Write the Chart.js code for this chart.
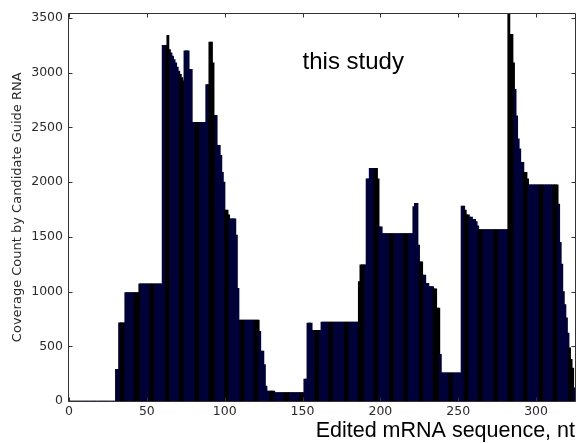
<!DOCTYPE html>
<html>
<head>
<meta charset="utf-8">
<script src="https://cdn.jsdelivr.net/npm/chart.js@4.4.1/dist/chart.umd.min.js"></script>
<style>
  body { margin: 0; background: #fff; }
</style>
</head>
<body>
<canvas id="myChart" width="578" height="443"></canvas>
<script>

// coverage: each step starts at stepStart (nt) and keeps stepHeight until the next one
const stepStart = [0, 30, 32, 36, 45, 60, 63, 64, 65, 66, 67, 68, 69, 70, 71, 72, 73, 74, 77, 79,
    88, 90, 92, 93, 95, 97, 98, 99, 100, 102, 103, 107, 108, 109, 122, 123, 125, 126, 127, 132,
    151, 153, 156, 162, 186, 187, 191, 193, 198, 199, 201, 221, 222, 224, 225, 227, 229, 231, 234, 236,
    238, 239, 252, 254, 255, 257, 259, 261, 262, 263, 282, 283, 285, 286, 287, 288, 289, 290, 292, 294,
    295, 314, 315, 316, 317, 318, 319, 320, 321, 322, 323, 324];
const stepHeight = [0, 290, 715, 990, 1070, 3250, 3340, 3210, 3180, 3150, 3120, 3090, 3050, 3015, 2985, 2955, 2925, 3200, 3030, 2545,
    2890, 3280, 3090, 2610, 2335, 2245, 2090, 2000, 1745, 1700, 1665, 1515, 1030, 740, 636, 455, 333, 136, 91, 76,
    200, 712, 645, 720, 1090, 1245, 2030, 2125, 2030, 1590, 1530, 1775, 1805, 1424, 1272, 1151, 1076, 1045, 1024, 848,
    427, 258, 1780, 1745, 1700, 1680, 1660, 1640, 1600, 1565, 3540, 3350, 3090, 2848, 2606, 2394, 2303, 2181, 2090, 2030,
    1975, 1800, 1450, 1250, 1000, 880, 760, 620, 485, 380, 300, 120];
const seqLength = 325;
const yMax = 3540;

const xTicks = [0, 50, 100, 150, 200, 250, 300];
const yTicks = [0, 500, 1000, 1500, 2000, 2500, 3000, 3500];

const noteText = 'this study';
const noteAt = [150, 3090];

const navy = '#02023a';

const bars = [];
for (let i = 0; i < seqLength; i++) {
    let k = 0;
    while (k + 1 < stepStart.length && stepStart[k + 1] <= i) k++;
    bars.push({ x: i + 0.5, y: stepHeight[k] });
}

// frame, inward ticks on all four sides, and the text label
const framePlugin = {
    id: 'frame',
    afterDraw(chart) {
        const ctx = chart.ctx;
        const a = chart.chartArea;
        const x = chart.scales.x;
        const y = chart.scales.y;
        const l = Math.round(a.left) - 0.5, r = Math.round(a.right) + 0.5;
        const t = Math.round(a.top) - 0.5, b = Math.round(a.bottom) + 0.5;
        ctx.save();
        ctx.strokeStyle = '#333333';
        ctx.lineWidth = 1;
        ctx.setLineDash([]);
        ctx.beginPath();
        ctx.moveTo(l, t); ctx.lineTo(r, t); ctx.lineTo(r, b); ctx.lineTo(l, b); ctx.closePath();
        ctx.stroke();
        ctx.beginPath();
        xTicks.forEach(v => {
            const px = Math.round(x.getPixelForValue(v)) + 0.5;
            ctx.moveTo(px, b); ctx.lineTo(px, b - 4);
            ctx.moveTo(px, t); ctx.lineTo(px, t + 4);
        });
        yTicks.forEach(v => {
            const py = Math.round(y.getPixelForValue(v)) + 0.5;
            ctx.moveTo(l, py); ctx.lineTo(l + 4, py);
            ctx.moveTo(r, py); ctx.lineTo(r - 4, py);
        });
        ctx.stroke();

        ctx.fillStyle = '#000';
        ctx.font = '24px "Liberation Sans", Arial, sans-serif';
        ctx.textAlign = 'left';
        ctx.textBaseline = 'middle';
        ctx.fillText(noteText, x.getPixelForValue(noteAt[0]), y.getPixelForValue(noteAt[1]));
        ctx.restore();
    }
};

const tickFont = { family: '"DejaVu Sans", sans-serif', size: 12.5 };

const config = {
    type: 'bar',
    data: {
        datasets: [{
            data: bars,
            backgroundColor: (c) => {
                const p = ((c.index - 3.5) % 9.6 + 9.6) % 9.6;
                return p < 3.2 ? '#000000' : navy;
            },
            borderWidth: 0,
            barThickness: 2.2
        }]
    },
    options: {
        responsive: false,
        animation: false,
        layout: { padding: { top: 13, right: 3, left: 0, bottom: 0 } },
        plugins: { legend: { display: false }, tooltip: { enabled: false } },
        scales: {
            x: {
                type: 'linear',
                offset: false,
                min: 0,
                max: seqLength,
                afterBuildTicks: (s) => { s.ticks = xTicks.map(v => ({ value: v })); },
                afterFit: (s) => { s.height = 42; },
                grid: { display: false, drawTicks: false },
                border: { display: false },
                ticks: { font: tickFont, color: '#2b2b2b', padding: 3, maxRotation: 0, callback: (v) => String(v) },
                title: {
                    display: true,
                    text: 'Edited mRNA sequence, nt',
                    align: 'end',
                    color: '#000',
                    font: { family: '"Liberation Sans", Arial, sans-serif', size: 21.5, lineHeight: 1 },
                    padding: { top: 0, bottom: 1 }
                }
            },
            y: {
                min: 0,
                max: yMax,
                afterBuildTicks: (s) => { s.ticks = yTicks.map(v => ({ value: v })); },
                afterFit: (s) => { s.width = 69; },
                grid: { display: false, drawTicks: false },
                border: { display: false },
                ticks: { font: tickFont, color: '#2b2b2b', padding: 6, callback: (v) => String(v) },
                title: {
                    display: true,
                    text: 'Coverage Count by Candidate Guide RNA',
                    color: '#2b2b2b',
                    font: { family: '"DejaVu Sans", sans-serif', size: 13 },
                    padding: { top: 10, bottom: 0 }
                }
            }
        }
    },
    plugins: [framePlugin]
};

const myChart = new Chart(document.getElementById('myChart'), config);
</script>
</body>
</html>
